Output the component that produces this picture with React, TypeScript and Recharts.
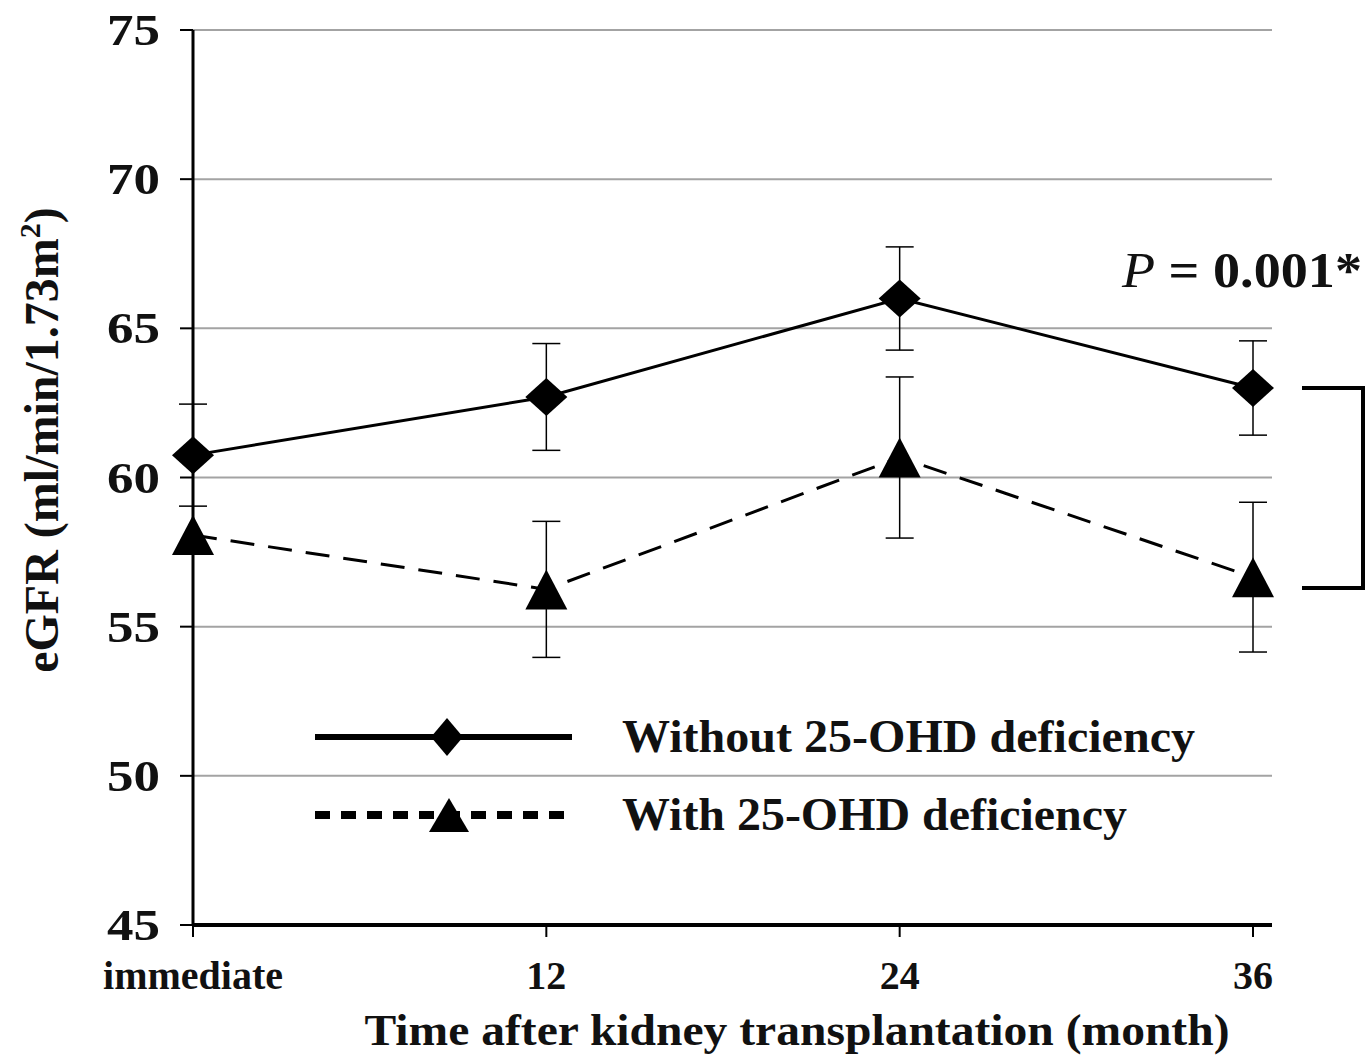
import React from 'react';
import { LineChart, Line, XAxis, YAxis, CartesianGrid, ErrorBar, Legend, Customized } from 'recharts';

const categories = ['immediate', '12', '24', '36'];
const withoutValues = [60.75, 62.7, 66.0, 63.0];
const withoutErrors = [1.71, 1.79, 1.73, 1.58];
const withValues = [58.07, 56.25, 60.67, 56.66];
const withErrors = [0, 2.28, 2.7, 2.51];
const yTicks = [45, 50, 55, 60, 65, 70, 75];
const seriesNames = ['Without 25-OHD deficiency', 'With 25-OHD deficiency'];
const bracketValues = [63.0, 56.3];
const pValueText = '= 0.001*';
const xTitle = 'Time after kidney transplantation (month)';
const yTitle = 'eGFR (ml/min/1.73m';

const data = categories.map((c, i) => ({
  cat: c,
  without: withoutValues[i],
  withoutErr: withoutErrors[i],
  with: withValues[i],
  withErr: withErrors[i],
}));

const W = 1369;
const H = 1055;
const MARGIN = { top: 30, right: 97, left: 0, bottom: 0 };
const Y_AXIS_W = 193;
const X_AXIS_H = 130;
const Y_DOMAIN: [number, number] = [45, 75];
const FONT = '"Liberation Serif", "Times New Roman", serif';

const plotTop = MARGIN.top;
const plotBottom = H - MARGIN.bottom - X_AXIS_H;
const yOf = (v: number) =>
  plotTop + ((Y_DOMAIN[1] - v) / (Y_DOMAIN[1] - Y_DOMAIN[0])) * (plotBottom - plotTop);

const diamondPath = (cx: number, cy: number, hw: number, hh: number) =>
  `M${cx},${cy - hh} L${cx + hw},${cy} L${cx},${cy + hh} L${cx - hw},${cy} Z`;
const trianglePath = (cx: number, cy: number, hw: number, hh: number) =>
  `M${cx},${cy - hh} L${cx + hw},${cy + hh} L${cx - hw},${cy + hh} Z`;

const renderDiamond = (props: any) => {
  const { cx, cy, index } = props;
  return <path key={`dia-${index}`} d={diamondPath(cx, cy, 21, 19)} fill="#000" />;
};
const renderTriangle = (props: any) => {
  const { cx, cy, index } = props;
  return <path key={`tri-${index}`} d={trianglePath(cx, cy, 21, 20)} fill="#000" />;
};

const YTick = (props: any) => {
  const { x, y, payload } = props;
  return (
    <text
      x={x - 18}
      y={y + 15}
      textAnchor="end"
      fontFamily={FONT}
      fontWeight="bold"
      fontSize={44}
      fill="#111"
      textLength={53}
      lengthAdjust="spacingAndGlyphs"
    >
      {payload.value}
    </text>
  );
};

const XTick = (props: any) => {
  const { x, y, payload } = props;
  return (
    <text x={x} y={y + 50} textAnchor="middle" fontFamily={FONT} fontWeight="bold" fontSize={40} fill="#111">
      {payload.value}
    </text>
  );
};

const renderLegend = () => {
  const textLens = [573, 505];
  return (
    <svg width={920} height={160} style={{ display: 'block', overflow: 'visible' }}>
      {seriesNames.map((name: string, i: number) => {
        const cy = i === 0 ? 37 : 115;
        return (
          <g key={name}>
            {i === 0 ? (
              <line x1={15} x2={272} y1={cy} y2={cy} stroke="#000" strokeWidth={6} />
            ) : (
              <line x1={15} x2={272} y1={cy} y2={cy} stroke="#000" strokeWidth={8} strokeDasharray="15 11" />
            )}
            {i === 0 ? (
              <path d={diamondPath(147, cy, 16, 19)} fill="#000" />
            ) : (
              <path d={trianglePath(149, cy, 20, 17)} fill="#000" />
            )}
            <text
              x={322}
              y={cy + 15}
              fontFamily={FONT}
              fontWeight="bold"
              fontSize={46}
              fill="#111"
              textLength={textLens[i]}
              lengthAdjust="spacingAndGlyphs"
            >
              {name}
            </text>
          </g>
        );
      })}
    </svg>
  );
};

const Annotations = () => {
  const yTop = yOf(bracketValues[0]);
  const yBot = yOf(bracketValues[1]);
  return (
    <g>
      <path
        d={`M1302,${yTop} H1363 V${yBot} H1302`}
        fill="none"
        stroke="#000"
        strokeWidth={4}
      />
      <text
        x={1362}
        y={287}
        textAnchor="end"
        fontFamily={FONT}
        fontSize={50}
        fill="#111"
        textLength={240}
        lengthAdjust="spacingAndGlyphs"
      >
        <tspan fontStyle="italic">P</tspan>
        <tspan fontWeight="bold"> {pValueText}</tspan>
      </text>
      <text
        x={797}
        y={1045}
        textAnchor="middle"
        fontFamily={FONT}
        fontWeight="bold"
        fontSize={44}
        fill="#111"
        textLength={865}
        lengthAdjust="spacingAndGlyphs"
      >
        {xTitle}
      </text>
      <text
        transform="translate(58, 440) rotate(-90)"
        textAnchor="middle"
        fontFamily={FONT}
        fontWeight="bold"
        fontSize={48}
        fill="#111"
      >
        {yTitle}
        <tspan fontSize={30} dy={-18}>2</tspan>
        <tspan dy={18}>)</tspan>
      </text>
    </g>
  );
};

export default function App() {
  return (
    <div style={{ position: 'absolute', left: 0, top: 0, width: W, height: H, background: '#fff' }}>
      <LineChart width={W} height={H} data={data} margin={MARGIN}>
        <CartesianGrid vertical={false} stroke="#a3a3a3" strokeWidth={2} />
        <XAxis
          dataKey="cat"
          padding={{ left: 0, right: 19 }}
          height={X_AXIS_H}
          axisLine={{ stroke: '#000', strokeWidth: 4 }}
          tickLine={{ stroke: '#000', strokeWidth: 2 }}
          tickSize={12}
          tick={<XTick />}
          interval={0}
        />
        <YAxis
          domain={Y_DOMAIN}
          ticks={yTicks}
          width={Y_AXIS_W}
          axisLine={{ stroke: '#000', strokeWidth: 3 }}
          tickLine={{ stroke: '#000', strokeWidth: 2 }}
          tickSize={13}
          tick={<YTick />}
          interval={0}
        />
        <Line
          dataKey="without"
          name={seriesNames[0]}
          stroke="#000"
          strokeWidth={3}
          dot={renderDiamond}
          activeDot={false}
          isAnimationActive={false}
        >
          <ErrorBar dataKey="withoutErr" width={14} stroke="#000" strokeWidth={1.5} direction="y" />
        </Line>
        <Line
          dataKey="with"
          name={seriesNames[1]}
          stroke="#000"
          strokeWidth={3}
          strokeDasharray="24 14"
          dot={renderTriangle}
          activeDot={false}
          isAnimationActive={false}
        >
          <ErrorBar dataKey="withErr" width={14} stroke="#000" strokeWidth={1.5} direction="y" />
        </Line>
        <Legend
          content={renderLegend}
          layout="vertical"
          align="center"
          verticalAlign="middle"
          wrapperStyle={{ position: 'absolute', left: 300, top: 700, width: 920, height: 160 }}
        />
        <Customized component={<Annotations />} />
      </LineChart>
    </div>
  );
}
